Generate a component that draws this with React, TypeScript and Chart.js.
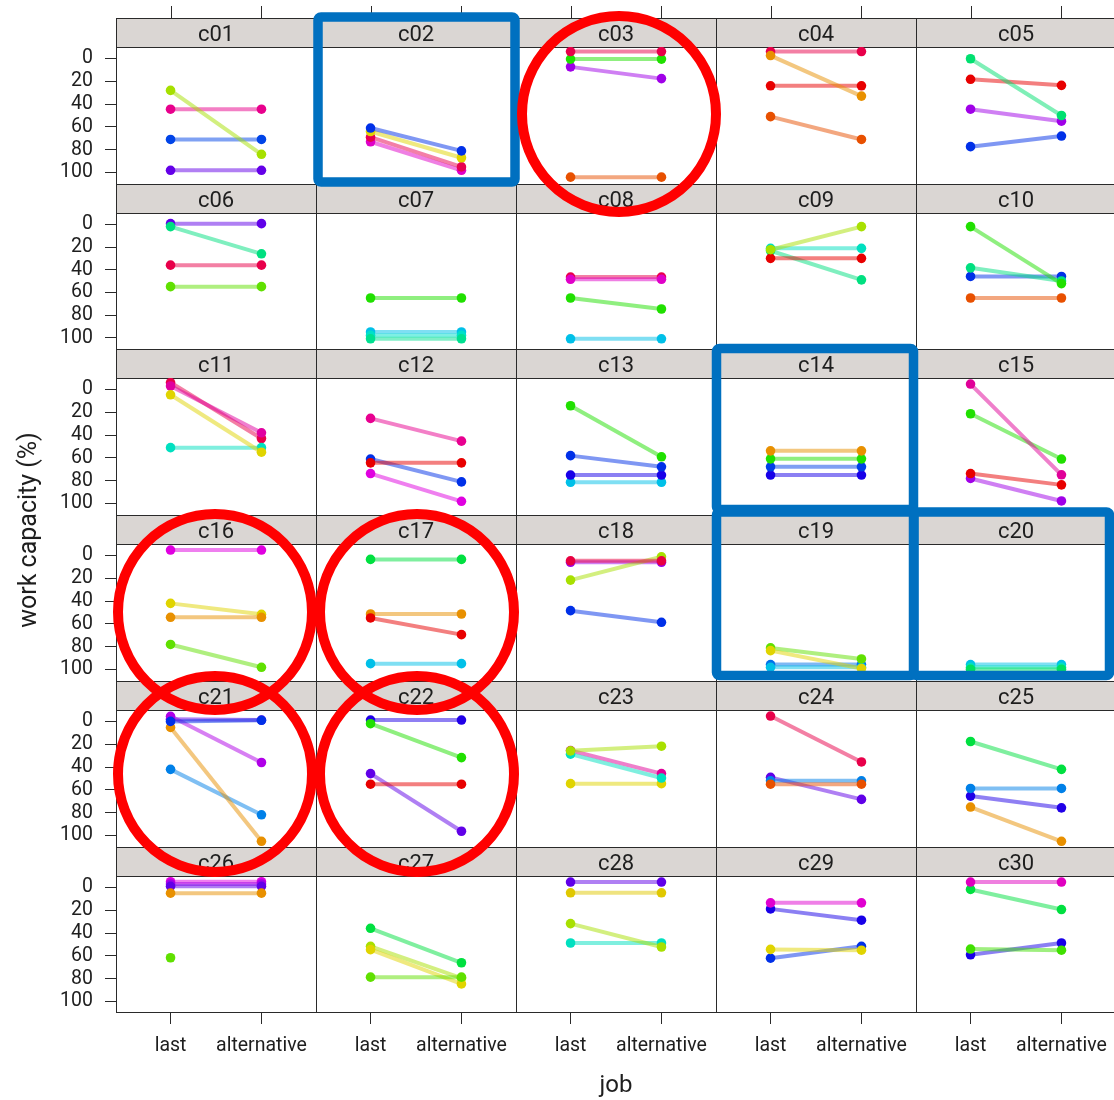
import React, { useEffect, useRef } from "react";
import { Chart, registerables } from "chart.js";
Chart.register(...registerables);

// ---------------- data ----------------
const panelNames = [
  "c01", "c02", "c03", "c04", "c05",
  "c06", "c07", "c08", "c09", "c10",
  "c11", "c12", "c13", "c14", "c15",
  "c16", "c17", "c18", "c19", "c20",
  "c21", "c22", "c23", "c24", "c25",
  "c26", "c27", "c28", "c29", "c30",
];
const jobLabels = ["last", "alternative"];
const yTickValues = [0, 20, 40, 60, 80, 100];

// work capacity (%) for job "last", one row per panel, one entry per person
const lastValues: (number | null)[][] = [
  [28, 44.5, 71, 98],
  [61, 64, 69, 73],
  [-6, 0.6, 7.4, 104],
  [-2.5, -6, 24, 51],
  [0.3, 18.3, 44.5, 77.3],
  [2, -0.6, 36, 55],
  [65, 101, 98, 95],
  [48.5, 46.5, 65, 101],
  [22.4, 30, 23.3, 21.2],
  [2, 38.4, 46, 65],
  [4.7, 51, -3, -6],
  [25.4, 64.3, 61, 73.7],
  [14.3, 58, 75, 81.3],
  [53.8, 60.8, 67.8, 75],
  [-4.7, 21.3, 73.7, 78],
  [-4.7, 54.2, 42, 78],
  [3.5, 54.8, 51.3, 94.8],
  [4.7, 21.6, 6, 48.4],
  [83.4, 81, 98, 95.6],
  [99.7, 98, 95.6],
  [0, -4.5, -2, 5.3, 42],
  [2, -1.2, 55, 45.7],
  [25.8, 28.7, 25.5, 54.5],
  [-4.7, 55, 52, 49],
  [17.6, 58.7, 65.4, 75],
  [5, -1, -3, -5, 61.6],
  [78.6, 35.8, 54.5, 51.6],
  [-4.7, 4.7, 31.7, 48.7],
  [13.5, 18.8, 54.3, 62],
  [-4.7, 1.8, 54, 59],
];

// work capacity (%) for job "alternative"
const altValues: (number | null)[][] = [
  [84, 44.5, 71, 98],
  [81, 87, 95, 98],
  [-6, 0.6, 17.7, 104],
  [33, -6, 24, 71],
  [50, 23.6, 55, 68],
  [26, -0.6, 36, 55],
  [65, 101, 98, 95],
  [48.5, 46.5, 74.7, 101],
  [2, 30, 49, 21.2],
  [52.3, 50, 46, 65],
  [55, 51, 38, 43],
  [45.3, 64.3, 81, 98],
  [59, 67.8, 75, 81.3],
  [53.8, 60.8, 67.8, 75],
  [74.8, 61, 83.6, 97.7],
  [-4.7, 54.2, 51.6, 98],
  [3.5, 69.4, 51.3, 94.8],
  [4.7, 1.2, 6, 58.6],
  [99, 90.7, 98, 95.6],
  [99.7, 98, 95.6],
  [-1, 36, -1.2, 105, 81.8],
  [31.7, -1.2, 55, 96.2],
  [21.7, 49.6, 45.7, 54.5],
  [35.5, 55, 52, 68.3],
  [42, 58.7, 75.7, 105],
  [5, -1, -3, -5, null],
  [78.6, 66, 84.5, 79.5],
  [-4.7, 4.7, 52.2, 48.7],
  [13.5, 28.7, 55, 51.6],
  [-4.7, 19.4, 55, 48.7],
];

const seriesColors: string[][] = [
  ["#a6e000", "#e8008c", "#0044e8", "#6400e8"],
  ["#0030e8", "#e0d400", "#e80050", "#e000c8"],
  ["#e8004a", "#20e000", "#a000e8", "#e85000"],
  ["#e89000", "#e8004a", "#e80000", "#e85000"],
  ["#00e070", "#e80000", "#a000e8", "#0030e8"],
  ["#00e080", "#6000e8", "#e8004a", "#60e000"],
  ["#20e000", "#00e090", "#00e0c8", "#00c0e8"],
  ["#e000c8", "#e8004a", "#20e000", "#00c0e8"],
  ["#a8e000", "#e80000", "#00e080", "#00e0c0"],
  ["#20e000", "#00e080", "#0030e8", "#e85000"],
  ["#e0d400", "#00e0c0", "#e000a0", "#e8004a"],
  ["#e80090", "#e80000", "#0030e8", "#e000e0"],
  ["#20e000", "#0030e8", "#1800e8", "#00c0e8"],
  ["#e89000", "#20e000", "#0040e8", "#1800e8"],
  ["#e00098", "#20e000", "#e80000", "#a000e8"],
  ["#e000e0", "#e89000", "#e0d400", "#60e000"],
  ["#00e040", "#e80000", "#e89000", "#00c0e8"],
  ["#e80040", "#a8e000", "#a000e8", "#0030e8"],
  ["#e0d400", "#60e000", "#00c0e8", "#0070e8"],
  ["#00e060", "#00e0c0", "#00c0e8"],
  ["#0030e8", "#b000e8", "#6000e8", "#e89000", "#0080e8"],
  ["#20e000", "#2000e8", "#e80000", "#6000e8"],
  ["#a8e000", "#00e0c0", "#e00098", "#e0d400"],
  ["#e8004a", "#e85000", "#0080e8", "#6000e8"],
  ["#00e040", "#0080e8", "#2000e8", "#e89000"],
  ["#e89000", "#6000e8", "#a000e8", "#e000e0", "#60e000"],
  ["#60e000", "#00e040", "#e0d400", "#a8e000"],
  ["#6000e8", "#e0c800", "#a8e000", "#00e0c0"],
  ["#e000d0", "#1800e8", "#e0d400", "#0030e8"],
  ["#e000c0", "#00e040", "#40e000", "#1800e8"],
];

// ---------------- layout / style ----------------
const COLS = 5;
const ROWS = 6;
const ROW_TOPS = [18, 184, 349, 515, 681, 847];
const PAGE_W = 1114;
const PAGE_H = 1100;
const AXIS_W = 116;
const COL_W = 200;
const STRIP_H = 29;
const X_AXIS_H = 87;
const FONT = "Roboto, 'DejaVu Sans', sans-serif";
const TEXT = "#1e1e1e";
const LINE = "#2a2a2a";
const STRIP_BG = "#dad6d3";

function withAlpha(hex: string, a: number) {
  const r = parseInt(hex.slice(1, 3), 16);
  const g = parseInt(hex.slice(3, 5), 16);
  const b = parseInt(hex.slice(5, 7), 16);
  return `rgba(${r},${g},${b},${a})`;
}

function Panel({ index }: { index: number }) {
  const ref = useRef<HTMLCanvasElement | null>(null);
  const col = index % COLS;
  const row = Math.floor(index / COLS);
  const isLeft = col === 0;
  const isTop = row === 0;
  const isBottom = row === ROWS - 1;
  const left = isLeft ? 0 : AXIS_W + COL_W * col;
  const width = isLeft ? AXIS_W + COL_W : COL_W;
  const top = isTop ? 0 : ROW_TOPS[row];
  const bottom = isBottom ? PAGE_H : ROW_TOPS[row + 1];
  const height = bottom - top;
  const padTop = ROW_TOPS[row] - top + STRIP_H;

  useEffect(() => {
    if (!ref.current) return;
    const name = panelNames[index];
    const datasets = lastValues[index].map((v, i) => {
      const c = seriesColors[index][i];
      return {
        label: name + "-" + i,
        data: [
          { x: 1, y: v },
          { x: 2, y: altValues[index][i] },
        ],
        borderColor: withAlpha(c, 0.5),
        backgroundColor: c,
        pointBackgroundColor: c,
        pointBorderColor: c,
        pointBorderWidth: 0,
        pointRadius: 4.8,
        borderWidth: 4,
        spanGaps: false,
      };
    });

    const stripPlugin = {
      id: "strip" + index,
      beforeDraw(chart: any) {
        const { ctx, chartArea: a } = chart;
        const sTop = a.top - STRIP_H;
        ctx.save();
        ctx.fillStyle = STRIP_BG;
        ctx.fillRect(a.left, sTop, a.right - a.left, STRIP_H);
        ctx.strokeStyle = LINE;
        ctx.lineWidth = 1;
        ctx.beginPath();
        ctx.moveTo(a.left + 0.5, sTop);
        ctx.lineTo(a.left + 0.5, a.bottom);
        ctx.moveTo(a.left, sTop + 0.5);
        ctx.lineTo(a.right, sTop + 0.5);
        ctx.moveTo(a.left, a.top + 0.5);
        ctx.lineTo(a.right, a.top + 0.5);
        if (isBottom) {
          ctx.moveTo(a.left, a.bottom - 0.5);
          ctx.lineTo(a.right, a.bottom - 0.5);
        }
        if (isTop) {
          const xs = chart.scales.x;
          [1, 2].forEach((v) => {
            const px = Math.round(xs.getPixelForValue(v)) + 0.5;
            ctx.moveTo(px, sTop - 12);
            ctx.lineTo(px, sTop);
          });
        }
        ctx.stroke();
        ctx.fillStyle = TEXT;
        ctx.font = `22px ${FONT}`;
        ctx.textAlign = "center";
        ctx.textBaseline = "alphabetic";
        ctx.fillText(name, (a.left + a.right) / 2, sTop + 22.5);
        ctx.restore();
      },
    };

    const chart = new Chart(ref.current, {
      type: "line",
      data: { datasets: datasets as any },
      options: {
        animation: false,
        responsive: false,
        maintainAspectRatio: false,
        devicePixelRatio: 1,
        events: [],
        layout: {
          autoPadding: false,
          padding: { top: padTop, left: 0, right: 0, bottom: 0 },
        },
        plugins: {
          legend: { display: false },
          tooltip: { enabled: false },
          title: { display: false },
        },
        scales: {
          x: {
            type: "linear",
            min: 0.4,
            max: 2.6,
            display: isBottom,
            position: "bottom",
            afterBuildTicks: (s: any) => {
              s.ticks = [{ value: 1 }, { value: 2 }];
            },
            afterFit: (s: any) => {
              s.height = isBottom ? X_AXIS_H : 0;
              s.paddingLeft = 0;
              s.paddingRight = 0;
            },
            grid: {
              drawOnChartArea: false,
              drawTicks: true,
              tickLength: 11,
              color: LINE,
              lineWidth: 1,
            },
            border: { display: false },
            ticks: {
              autoSkip: false,
              maxRotation: 0,
              minRotation: 0,
              padding: 10,
              color: TEXT,
              font: { size: 19.5, family: FONT },
              callback: (v: any) => (v === 1 ? jobLabels[0] : v === 2 ? jobLabels[1] : ""),
            },
          },
          y: {
            type: "linear",
            min: -10,
            max: 110,
            reverse: true,
            display: isLeft,
            position: "left",
            afterBuildTicks: (s: any) => {
              s.ticks = yTickValues.map((v) => ({ value: v }));
            },
            afterFit: (s: any) => {
              s.width = isLeft ? AXIS_W : 0;
              s.paddingTop = 0;
              s.paddingBottom = 0;
            },
            grid: {
              drawOnChartArea: false,
              drawTicks: true,
              tickLength: 11,
              color: LINE,
              lineWidth: 1,
            },
            border: { display: false },
            ticks: {
              autoSkip: false,
              padding: 12,
              color: TEXT,
              font: { size: 19.5, family: FONT },
              callback: (v: any) => String(v),
            },
          },
        },
      },
      plugins: [stripPlugin],
    });
    return () => chart.destroy();
  }, [index]);

  return (
    <canvas
      ref={ref}
      width={width}
      height={height}
      style={{ position: "absolute", left, top, width, height }}
    />
  );
}

// annotation overlays (red circles, blue boxes)
const redCircles = [
  { cx: 619, cy: 114, rx: 97, ry: 98 },
  { cx: 215, cy: 612, rx: 97, ry: 98 },
  { cx: 417, cy: 612, rx: 97, ry: 98 },
  { cx: 215, cy: 774, rx: 97, ry: 98 },
  { cx: 417, cy: 774, rx: 97, ry: 98 },
];
const blueBoxes = [
  { x: 318, y: 17, w: 197, h: 165 },
  { x: 716.5, y: 348.5, w: 197, h: 161 },
  { x: 716.5, y: 512, w: 197, h: 163.5 },
  { x: 914, y: 512, w: 195.5, h: 163.5 },
];

export default function App() {
  return (
    <div
      style={{
        position: "absolute",
        left: 0,
        top: 0,
        width: PAGE_W,
        height: PAGE_H,
        overflow: "hidden",
        background: "#ffffff",
      }}
    >
      {panelNames.map((_, i) => (
        <Panel key={i} index={i} />
      ))}
      <div
        style={{
          position: "absolute",
          left: 28 - 150,
          top: 530 - 12,
          width: 300,
          height: 24,
          lineHeight: "24px",
          fontSize: 25,
          fontFamily: FONT,
          color: TEXT,
          textAlign: "center",
          transform: "rotate(-90deg)",
          whiteSpace: "nowrap",
        }}
      >
        work capacity (%)
      </div>
      <div
        style={{
          position: "absolute",
          left: 616 - 100,
          top: 1072,
          width: 200,
          height: 24,
          lineHeight: "24px",
          fontSize: 24,
          fontFamily: FONT,
          color: TEXT,
          textAlign: "center",
          whiteSpace: "nowrap",
        }}
      >
        job
      </div>
      <svg
        width={PAGE_W}
        height={PAGE_H}
        style={{ position: "absolute", left: 0, top: 0, pointerEvents: "none" }}
      >
        {blueBoxes.map((b, i) => (
          <rect
            key={"b" + i}
            x={b.x}
            y={b.y}
            width={b.w}
            height={b.h}
            rx={3}
            fill="none"
            stroke="#0070c0"
            strokeWidth={9.5}
          />
        ))}
        {redCircles.map((c, i) => (
          <ellipse
            key={"r" + i}
            cx={c.cx}
            cy={c.cy}
            rx={c.rx}
            ry={c.ry}
            fill="none"
            stroke="#ff0000"
            strokeWidth={10}
          />
        ))}
      </svg>
    </div>
  );
}
